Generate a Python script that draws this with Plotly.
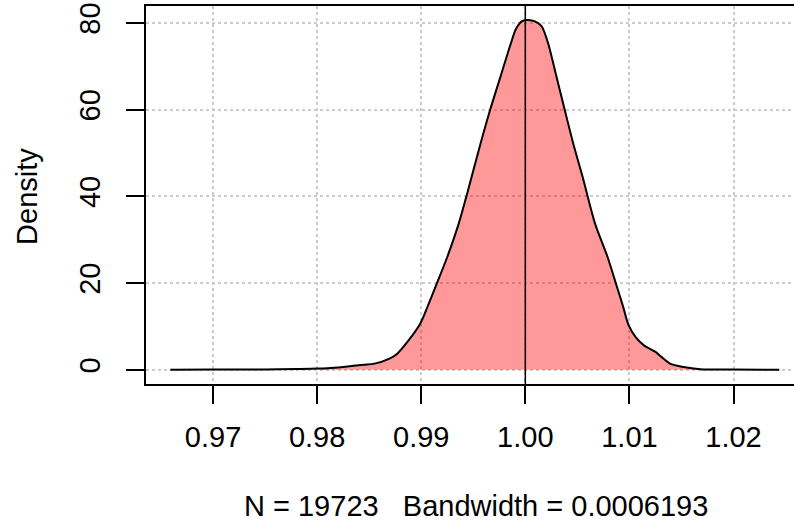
import plotly.graph_objects as go

# density estimate (x = value, y = density)
dens_x = [0.9659, 0.9700, 0.9750, 0.9780, 0.9800, 0.9813, 0.9825, 0.9835, 0.9845,
          0.9855, 0.9869, 0.9877, 0.9888, 0.9899, 0.9906, 0.9915, 0.9925, 0.9936,
          0.9945, 0.9957, 0.9966, 0.9976, 0.9986, 0.9991, 0.9997, 1.0005, 1.0012,
          1.0016, 1.0022, 1.0030, 1.0038, 1.0046, 1.0055, 1.0067, 1.0079,
          1.0087, 1.0094, 1.0099, 1.0106, 1.0114, 1.0125, 1.0131, 1.0139, 1.0152,
          1.0168, 1.0200, 1.0244]
dens_y = [0.0, 0.05, 0.05, 0.15, 0.25, 0.4, 0.6, 0.9, 1.15,
          1.4, 2.5, 3.7, 6.8, 10.6, 14.5, 19.9, 26.0, 33.7,
          41.4, 52.2, 59.8, 67.5, 75.2, 78.6, 80.4, 80.6, 80.0,
          79.1, 75.2, 67.5, 59.8, 52.2, 44.5, 33.7, 26.0,
          19.9, 14.5, 10.4, 7.5, 5.6, 4.1, 2.9, 1.4, 0.6,
          0.1, 0.02, 0.0]

x_ticks = [0.97, 0.98, 0.99, 1.00, 1.01, 1.02]
x_labels = ['0.97', '0.98', '0.99', '1.00', '1.01', '1.02']
y_ticks = [0, 20, 40, 60, 80]
y_labels = ['0', '20', '40', '60', '80']

subtitle = 'N = 19723\u00a0\u00a0\u00a0Bandwidth = 0.0006193'
FONT = 'Liberation Sans, Arial, sans-serif'

fig = go.Figure()
fig.add_trace(go.Scatter(
    x=dens_x, y=dens_y,
    mode='lines',
    line=dict(color='black', width=2, shape='spline', smoothing=0.8),
    fill='tozeroy',
    fillcolor='rgba(255,0,0,0.4)',
    hoverinfo='skip'
))

fig.update_layout(
    width=794,
    height=523,
    margin=dict(l=146, r=0, t=6, b=139),
    plot_bgcolor='white',
    paper_bgcolor='white',
    showlegend=False,
    font=dict(family=FONT, size=29, color='black'),
    shapes=[dict(
        type='line', xref='x', yref='paper',
        x0=1.0, x1=1.0, y0=0, y1=1,
        line=dict(color='black', width=1.5)
    )],
    annotations=[
        dict(text='Density', xref='paper', yref='paper', x=-0.1836, y=0.495,
             xanchor='center', yanchor='middle',
             textangle=-90, showarrow=False, font=dict(size=29)),
        dict(text=subtitle, xref='paper', yref='paper', x=0.5085, y=-0.324,
             xanchor='center', yanchor='middle',
             showarrow=False, font=dict(size=29)),
    ]
)

fig.update_xaxes(
    range=[0.96356, 1.02581],
    tickvals=x_ticks,
    ticktext=x_labels,
    ticks='outside',
    ticklen=18,
    tickwidth=1.5,
    tickcolor='black',
    showline=True,
    mirror=True,
    linecolor='black',
    linewidth=1.5,
    showgrid=True,
    gridcolor='#cccccc',
    griddash='dot',
    gridwidth=1.5,
    zeroline=False,
    automargin=False,
    ticklabelstandoff=8
)
fig.update_yaxes(
    range=[-3.3, 83.9],
    tickvals=y_ticks,
    ticktext=y_labels,
    tickangle=-90,
    ticks='outside',
    ticklen=18,
    tickwidth=1.5,
    tickcolor='black',
    showline=True,
    linecolor='black',
    linewidth=1.5,
    showgrid=True,
    gridcolor='#cccccc',
    griddash='dot',
    gridwidth=1.5,
    zeroline=False,
    automargin=False,
    ticklabelstandoff=15
)

# page body has a default 8px margin; remove it so the figure sits at 0,0
fig.write_html("out.html", config={'displayModeBar': False},
               post_script="document.body.style.margin='0';")
